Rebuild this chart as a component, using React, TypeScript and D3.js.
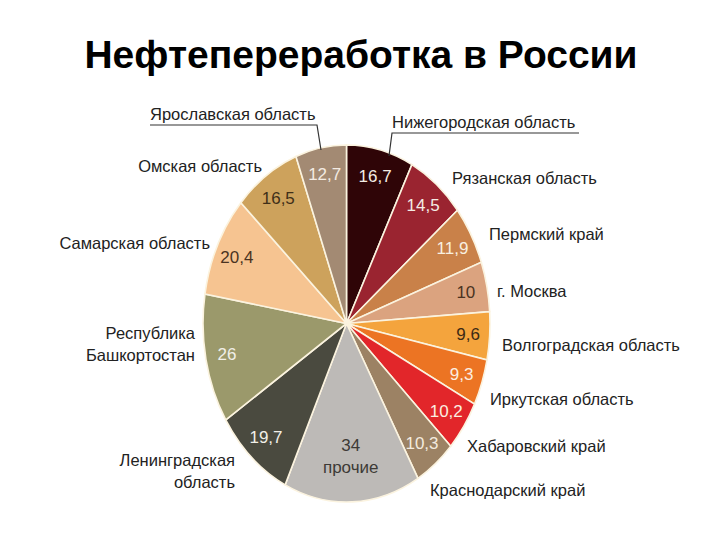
import * as d3 from 'd3'
import React, { useEffect, useRef } from 'react'

// slices clockwise from 12 o'clock
const regions = [
    'Нижегородская область',
    'Рязанская область',
    'Пермский край',
    'г. Москва',
    'Волгоградская область',
    'Иркутская область',
    'Хабаровский край',
    'Краснодарский край',
    'прочие',
    'Ленинградская область',
    'Республика Башкортостан',
    'Самарская область',
    'Омская область',
    'Ярославская область',
]
const values = [16.7, 14.5, 11.9, 10, 9.6, 9.3, 10.2, 10.3, 34, 19.7, 26, 20.4, 16.5, 12.7]
const colors = [
    '#2f0507', '#9a2430', '#c98149', '#dba37f', '#f4a43d', '#ec7423', '#e2262a',
    '#9c8264', '#bdbab7', '#4a4a3f', '#9b996b', '#f6c491', '#cda25c', '#a38a73',
]
const valueColors = [
    '#f4ece4', '#f4ece4', '#f8efe0', '#4a3322', '#3c2a15', '#fbeee0', '#fbeee0',
    '#f3ebdf', '#3d3a36', '#f1efe8', '#f1efe8', '#4a3322', '#3f2f18', '#f3ebe2',
]
// outer labels: [x, y, anchor, lines]
const outerLabels: [number, number, string, string[]][] = [
    [392, 128, 'start', ['Нижегородская область']],
    [452, 184, 'start', ['Рязанская область']],
    [489, 240, 'start', ['Пермский край']],
    [497, 297, 'start', ['г. Москва']],
    [502, 351, 'start', ['Волгоградская область']],
    [490, 405, 'start', ['Иркутская область']],
    [467, 452, 'start', ['Хабаровский край']],
    [430, 496, 'start', ['Краснодарский край']],
    [0, 0, 'middle', []],
    [235, 466, 'end', ['Ленинградская', 'область']],
    [195, 339, 'end', ['Республика', 'Башкортостан']],
    [210, 249, 'end', ['Самарская область']],
    [262, 172, 'end', ['Омская область']],
    [150, 120, 'start', ['Ярославская область']],
]

const cx = 346.5
const cy = 323.5
const rx = 143.5
const ry = 178.5

const App = (): JSX.Element => {
    const ref = useRef<SVGSVGElement>(null)

    useEffect(() => {
        const svg = d3.select(ref.current)
        svg.selectAll('*').remove()

        svg.append('text')
            .attr('x', 361)
            .attr('y', 68)
            .attr('text-anchor', 'middle')
            .style('font-family', '"Liberation Sans", Arial, sans-serif')
            .style('font-weight', 700)
            .style('font-size', '39px')
            .style('fill', '#000')
            .text('Нефтепереработка в России')

        const pie = d3.pie<number>().sort(null).value((d) => d)
        const arcs = pie(values)
        const arc = d3.arc<d3.PieArcDatum<number>>().innerRadius(0).outerRadius(rx)

        const g = svg.append('g').attr('transform', `translate(${cx},${cy}) scale(1,${ry / rx})`)
        g.selectAll('path')
            .data(arcs)
            .enter()
            .append('path')
            .attr('d', arc)
            .style('fill', (d, i) => colors[i])
            .style('stroke', '#fbf3df')
            .style('stroke-width', 1.6)
            .attr('vector-effect', 'non-scaling-stroke')

        // value labels inside slices
        const labelArc = d3.arc<d3.PieArcDatum<number>>().innerRadius(rx * 0.85).outerRadius(rx * 0.85)
        const otherArc = d3.arc<d3.PieArcDatum<number>>().innerRadius(rx * 0.74).outerRadius(rx * 0.74)
        arcs.forEach((d, i) => {
            const isOther = regions[i] === 'прочие'
            const [lx, ly] = (isOther ? otherArc : labelArc).centroid(d)
            const x = cx + lx
            const y = cy + ly * (ry / rx)
            const txt = String(values[i]).replace('.', ',')
            const t = svg.append('text')
                .attr('x', x)
                .attr('y', y + 6)
                .attr('text-anchor', 'middle')
                .style('font-family', '"Liberation Sans", Arial, sans-serif')
                .style('font-size', '17px')
                .style('fill', valueColors[i])
            if (isOther) {
                t.attr('y', y - 4).text(txt)
                svg.append('text')
                    .attr('x', x)
                    .attr('y', y + 18)
                    .attr('text-anchor', 'middle')
                    .style('font-family', '"Liberation Sans", Arial, sans-serif')
                    .style('font-size', '17px')
                    .style('fill', valueColors[i])
                    .text('прочие')
            } else {
                t.text(txt)
            }
        })

        // outer labels
        outerLabels.forEach(([x, y, anchor, lines]) => {
            lines.forEach((line, j) => {
                svg.append('text')
                    .attr('x', x)
                    .attr('y', y + j * 22)
                    .attr('text-anchor', anchor)
                    .style('font-family', '"Liberation Sans", Arial, sans-serif')
                    .style('font-size', '16.5px')
                    .style('fill', '#222')
                    .text(line)
            })
        })

        // underlines + leader lines for the two top labels
        const leader = [
            [[150, 125], [317, 125], [321, 150]],
            [[579, 133], [392, 133], [389, 156]],
        ]
        leader.forEach((pts) => {
            svg.append('path')
                .attr('d', d3.line()(pts as [number, number][]))
                .style('fill', 'none')
                .style('stroke', '#333')
                .style('stroke-width', 1.2)
        })
    }, [])

    return (
        <div style={{ position: 'absolute', left: 0, top: 0 }}>
            <svg ref={ref} width={720} height={540} style={{ display: 'block', background: '#fff' }} />
        </div>
    )
}

export default App
